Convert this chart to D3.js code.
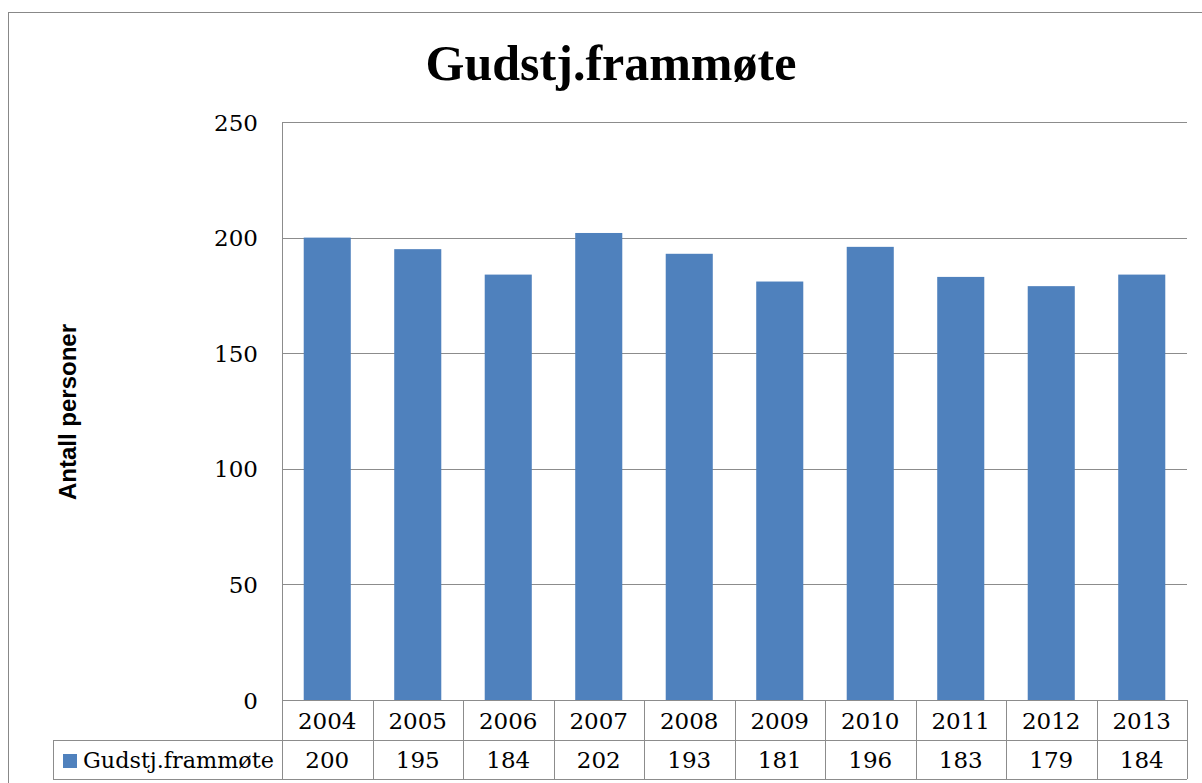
<!DOCTYPE html>
<html>
<head>
<meta charset="utf-8">
<script src="https://cdn.jsdelivr.net/npm/d3@7"></script>
<style>
  body { margin: 0; background: #fff; }
  svg { display: block; }
</style>
</head>
<body>
<div class="chart"></div>
<script>
// data
let years = ["2004", "2005", "2006", "2007", "2008", "2009", "2010", "2011", "2012", "2013"]
let values = [200, 195, 184, 202, 193, 181, 196, 183, 179, 184]
let yTicks = [0, 50, 100, 150, 200, 250]
let seriesName = "Gudstj.frammøte"
let chartTitle = "Gudstj.frammøte"
let yLabel = "Antall personer"

let width = 1202, height = 783
let plot = { left: 282, right: 1187, top: 122, bottom: 700 }
let rowH = 39
let serif = "'DejaVu Serif', 'Liberation Serif', serif"
let gridColor = "#8c8c8c"
let barColor = "#4f81bd"
let numSize = 23

let svg = d3.select(".chart")
  .append("svg")
  .attr("width", width)
  .attr("height", height)

// outer chart border (runs off the right and bottom)
svg.append("rect")
  .attr("x", 8.5)
  .attr("y", 12.5)
  .attr("width", width + 20)
  .attr("height", height + 20)
  .attr("fill", "none")
  .attr("stroke", "#888")
  .attr("stroke-width", 1)

// title
svg.append("text")
  .attr("x", 611)
  .attr("y", 80)
  .attr("text-anchor", "middle")
  .attr("font-family", "'Liberation Serif', serif")
  .attr("font-weight", "bold")
  .attr("font-size", 50)
  .text(chartTitle)

let x = d3.scaleBand()
  .domain(years)
  .range([plot.left, plot.right])
  .paddingInner(0.48)
  .paddingOuter(0.24)

let y = d3.scaleLinear()
  .domain([0, 250])
  .range([plot.bottom, plot.top])

// gridlines
svg.append("g")
  .selectAll("line")
  .data(yTicks)
  .enter()
  .append("line")
  .attr("x1", plot.left)
  .attr("x2", plot.right)
  .attr("y1", (d) => Math.round(y(d)) + 0.5)
  .attr("y2", (d) => Math.round(y(d)) + 0.5)
  .attr("stroke", gridColor)
  .attr("stroke-width", 1)

// y axis line
svg.append("line")
  .attr("x1", plot.left + 0.5)
  .attr("x2", plot.left + 0.5)
  .attr("y1", plot.top)
  .attr("y2", plot.bottom)
  .attr("stroke", gridColor)

// tick labels
svg.append("g")
  .selectAll("text")
  .data(yTicks)
  .enter()
  .append("text")
  .attr("x", 258)
  .attr("y", (d) => y(d) + 8.5)
  .attr("text-anchor", "end")
  .attr("font-family", serif)
  .attr("font-size", numSize)
  .text((d) => d)

// y label
svg.append("text")
  .attr("transform", "translate(76,412) rotate(-90)")
  .attr("text-anchor", "middle")
  .attr("font-family", "'Liberation Sans', Arial, sans-serif")
  .attr("font-weight", "bold")
  .attr("font-size", 24)
  .text(yLabel)

// bars
svg.append("g")
  .selectAll("rect")
  .data(values)
  .enter()
  .append("rect")
  .attr("x", (d, i) => x(years[i]))
  .attr("y", (d) => y(d))
  .attr("width", x.bandwidth())
  .attr("height", (d) => y(0) - y(d))
  .attr("fill", barColor)

// data table
let step = x.step()
let colX = years.map((d, i) => plot.left + i * step)
let table = svg.append("g")
let legendLeft = 53
let row1 = plot.bottom, row2 = plot.bottom + 40, row3 = plot.bottom + 40 + rowH

// horizontal lines
table.append("line")
  .attr("x1", plot.left).attr("x2", plot.right)
  .attr("y1", row1 + 0.5).attr("y2", row1 + 0.5)
  .attr("stroke", gridColor)
table.append("line")
  .attr("x1", legendLeft).attr("x2", plot.right)
  .attr("y1", row2 + 0.5).attr("y2", row2 + 0.5)
  .attr("stroke", gridColor)
table.append("line")
  .attr("x1", legendLeft).attr("x2", plot.right)
  .attr("y1", row3 + 0.5).attr("y2", row3 + 0.5)
  .attr("stroke", gridColor)

// vertical lines
table.selectAll(".vline")
  .data(colX.concat([plot.right]))
  .enter()
  .append("line")
  .attr("class", "vline")
  .attr("x1", (d) => Math.round(d) + 0.5)
  .attr("x2", (d) => Math.round(d) + 0.5)
  .attr("y1", row1)
  .attr("y2", row3)
  .attr("stroke", gridColor)
table.append("line")
  .attr("x1", legendLeft + 0.5).attr("x2", legendLeft + 0.5)
  .attr("y1", row2).attr("y2", row3)
  .attr("stroke", gridColor)

// year row
table.selectAll(".year")
  .data(years)
  .enter()
  .append("text")
  .attr("class", "year")
  .attr("x", (d) => x(d) + x.bandwidth() / 2)
  .attr("y", row1 + 29)
  .attr("text-anchor", "middle")
  .attr("font-family", serif)
  .attr("font-size", numSize)
  .text((d) => d)

// value row
table.selectAll(".val")
  .data(values)
  .enter()
  .append("text")
  .attr("class", "val")
  .attr("x", (d, i) => x(years[i]) + x.bandwidth() / 2)
  .attr("y", row2 + 28)
  .attr("text-anchor", "middle")
  .attr("font-family", serif)
  .attr("font-size", numSize)
  .text((d) => d)

// legend key + series name
table.append("rect")
  .attr("x", 63)
  .attr("y", 754)
  .attr("width", 14)
  .attr("height", 14)
  .attr("fill", barColor)
table.append("text")
  .attr("transform", `translate(83,${row2 + 28}) scale(0.97,1)`)
  .attr("font-family", serif)
  .attr("font-size", numSize)
  .text(seriesName)
</script>
</body>
</html>
